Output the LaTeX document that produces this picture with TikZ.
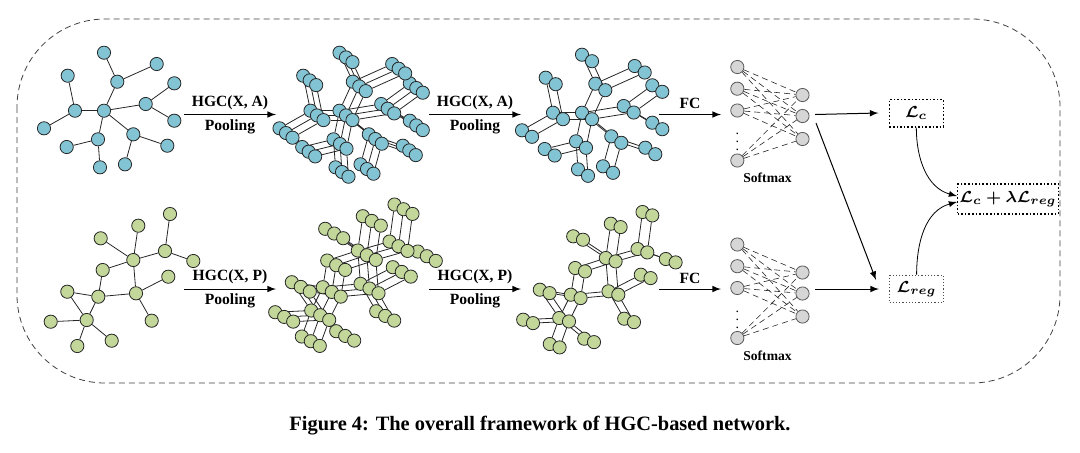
\documentclass[tikz,border=0pt]{standalone}
\usepackage{fontspec}
\setmainfont{Liberation Serif}
\usetikzlibrary{backgrounds}

\definecolor{hgcblue}{RGB}{130,196,212}
\definecolor{hgcgreen}{RGB}{194,215,153}
\definecolor{fcgray}{RGB}{214,214,214}

\tikzset{
  vblue/.style={circle, draw=black!85, fill=hgcblue, line width=0.4pt, minimum size=6.6pt, inner sep=0pt},
  vgreen/.style={vblue, fill=hgcgreen},
  vgray/.style={vblue, draw=black!65, fill=fcgray, minimum size=6.6pt},
  gedge/.style={draw=black!85, line width=0.4pt},
  fcedge/.style={draw=black!85, densely dashed, line width=0.3pt},
  arr/.style={-latex, line width=0.5pt},
  lbl/.style={font=\fontsize{7.8}{9}\selectfont\bfseries, inner sep=2.2pt},
  lossbox/.style={draw, densely dotted, line width=0.8pt, minimum width=27pt, minimum height=13.7pt, inner sep=1pt, font=\fontsize{8}{9}\selectfont\boldmath},
  frame/.style={draw=black!75, dash pattern=on 3pt off 2pt, line width=0.4pt, rounded corners=44pt},
}

% upper tree: name/x/y
\def\toptree{a/104/52.7, b/156.7/64, c/67.7/75.7, d/117.3/81.7, e/174.3/83.3, f/145.7/104, g/75/110.7, h/104/110.7, i/174.3/120.7, j/44/128.3, k/133.3/134.3, l/98/139.3, m/66.7/147, n/167.3/145.7, o/125/164.3, p/100/167.3}
\def\topedges{a/d, d/b, d/h, c/g, g/h, g/j, h/f, f/e, f/i, h/k, k/n, k/o, h/l, l/m, l/p}
% lower tree
\def\bottree{a/170/214, b/138.3/225.7, c/100.7/238.3, d/165/251, e/133.3/260, f/193.3/261, g/102.7/270, h/168.3/276.7, i/67.3/291.7, j/98.3/296.7, k/136/293.3, l/50.7/321.7, m/86.7/320, n/151.7/320.7, o/111.7/340.7, p/77.3/346}
\def\botedges{a/d, d/f, d/e, b/e, c/e, g/e, g/j, e/k, k/h, k/n, j/k, i/j, i/m, j/m, m/l, m/o, m/p}

% #1 prefix, #2 nodes, #3 edges, #4 #5 shift, #6 copies, #7 #8 step, #9 style
\newcommand{\drawgraph}[9]{
  \foreach \s in {1,...,#6}
    \foreach \n/\x/\y in #2
      \node[#9] (#1\s\n) at ({\x+(#4)+(\s-1)*(#7)}, {\y+(#5)+(\s-1)*(#8)}) {};
  \begin{scope}[on background layer]
    \foreach \s in {1,...,#6}
      \foreach \u/\v in #3
        \draw[gedge] (#1\s\u) -- (#1\s\v);
  \end{scope}
}

\begin{document}
\begin{tikzpicture}[x=0.5pt, y=-0.5pt]
\useasboundingbox (0,0) rectangle (1080,452);
\draw[frame] (17,19) rectangle (1060,383);

% graphs
\drawgraph{ta}{\toptree}{\topedges}{0}{0}{1}{0}{0}{vblue}
\drawgraph{tb}{\toptree}{\topedges}{235.5}{0}{3}{6.5}{4.7}{vblue}
\drawgraph{tc}{\toptree}{\topedges}{478}{2}{2}{10}{6.5}{vblue}
\drawgraph{ba}{\bottree}{\botedges}{0}{0}{1}{0}{0}{vgreen}
\drawgraph{bb}{\bottree}{\botedges}{224.5}{-9.5}{3}{9}{4.7}{vgreen}
\drawgraph{bc}{\bottree}{\botedges}{472.5}{-2}{2}{9.8}{3.4}{vgreen}

% arrows between the graphs
\foreach \row/\yy/\mat in {t/114.5/A, b/289/P}{
  \coordinate (\row p1s) at (184,\yy);
  \coordinate (\row p1e) at (276,\yy);
  \coordinate (\row p2s) at (429,\yy);
  \coordinate (\row p2e) at (521,\yy);
  \coordinate (\row fcs) at (659,\yy);
  \coordinate (\row fce) at (721,\yy);
  \coordinate (\row out) at (815,\yy);
  \draw[arr] (\row p1s) -- node[lbl, above] (\row hgc1) {HGC(X, \mat)} node[lbl, below] (\row pool1) {Pooling} (\row p1e);
  \draw[arr] (\row p2s) -- node[lbl, above] (\row hgc2) {HGC(X, \mat)} node[lbl, below] (\row pool2) {Pooling} (\row p2e);
  \draw[arr] (\row fcs) -- node[lbl, above, inner sep=2.6pt] (\row fc) {FC} (\row fce);
}

% softmax layers
\foreach \row/\dy in {t/0, b/177.5}{
  \foreach \i/\yy in {1/67, 2/88.7, 3/110.5, 4/160.5}
    \node[vgray] (\row in\i) at ({737.3},{\yy+\dy}) {};
  \foreach \j/\yy in {1/95, 2/116, 3/139}
    \node[vgray] (\row out\j) at ({802.5},{\yy+\dy}) {};
  \node[inner sep=0pt] (\row dots) at ({737.3},{136+\dy}) {\fontsize{7}{7}\selectfont$\vdots$};
  \node[lbl, font=\fontsize{6.8}{8}\selectfont\bfseries] (\row soft) at ({767.5},{178+\dy}) {Softmax};
  \foreach \i in {1,...,4}
    \foreach \j in {1,2,3}
      \draw[fcedge] (\row in\i) -- (\row out\j);
}

% losses
\node[lossbox] (lc) at (916.3,113) {$\mathcal{L}_c$};
\node[lossbox, line width=0.6pt, draw=black!70] (lreg) at (916.6,289) {$\mathcal{L}_{reg}$};
\node[lossbox, minimum width=42pt, minimum height=15pt] (tot) at (1008,199) {$\mathcal{L}_c + \lambda\mathcal{L}_{reg}$};

\draw[arr] (tout) -- ([xshift=-5pt]lc.west);
\draw[arr] (bout) -- ([xshift=-5pt]lreg.west);
\coordinate (dgs) at (816,123);
\draw[arr] (dgs) -- ([xshift=-6.5pt, yshift=4.5pt]lreg.west);
\draw[arr, line width=0.4pt] (lc.south) to[out=-90, in=165] ([yshift=1.5pt]tot.west);
\draw[arr, line width=0.4pt] (lreg.north) to[out=90, in=195] ([yshift=-1.5pt]tot.west);

% caption
\node[font=\fontsize{10.2}{12}\selectfont\bfseries] (cap) at (540,425.7) {Figure 4: The overall framework of HGC-based network.};
\end{tikzpicture}
\end{document}
